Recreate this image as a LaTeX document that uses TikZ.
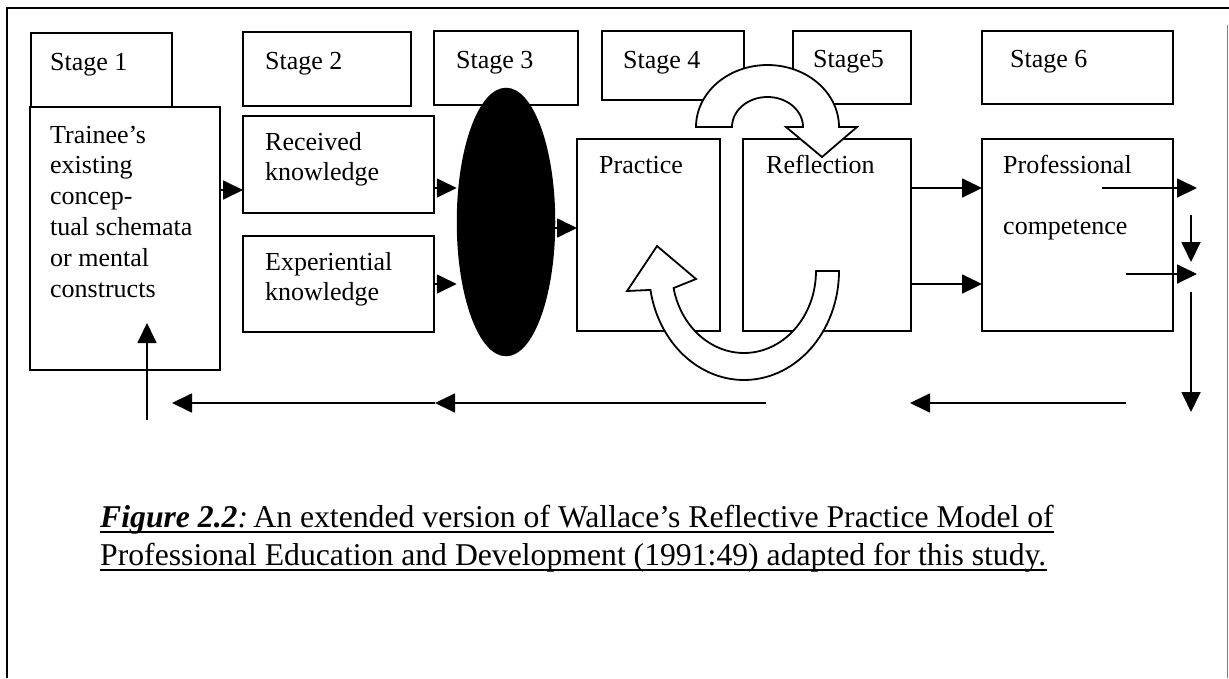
\documentclass[tikz,border=0pt]{standalone}
\usepackage{fontspec}
\setmainfont{Liberation Serif}
\usetikzlibrary{arrows.meta,shapes.geometric}

\newcommand\dtext{\fontsize{26}{30.8}\selectfont}
\newcommand\ctext{\fontsize{31.7}{38}\selectfont}
\newcommand\stack[1]{\parbox[t]{220pt}{\raggedright #1}}

\begin{document}
\begin{tikzpicture}[x=1pt,y=-1pt,
  stagebox/.style={draw, line width=1.8pt, inner sep=0pt, outer sep=0pt, anchor=north west},
  lbl/.style={anchor=base west, inner sep=0pt, font=\dtext},
  captext/.style={anchor=base west, inner sep=0pt, font=\ctext},
  arr/.style={line width=1.8pt, -{Triangle[length=20pt,width=19pt]}},
  cyclearrow/.style={draw, fill=white, line width=1.8pt, line join=miter}
]
\useasboundingbox (0,0) rectangle (1229,678);

% outer frame
\draw[line width=1.5pt] (7,678) -- (7,8) -- (1229,8);
\draw[gray, line width=1pt] (1227,25) -- (1227,678);

% stage headers
\node[stagebox, minimum width=141pt, minimum height=74pt] (s1) at (31,33) {};
\node[stagebox, minimum width=168pt, minimum height=74pt] (s2) at (243,32) {};
\node[stagebox, minimum width=144pt, minimum height=74pt] (s3) at (434,31) {};
\node[stagebox, minimum width=142pt, minimum height=69pt] (s4) at (602,31) {};
\node[stagebox, minimum width=118pt, minimum height=73pt] (s5) at (793,31) {};
\node[stagebox, minimum width=191pt, minimum height=73pt] (s6) at (982,31) {};

% content boxes
\node[stagebox, minimum width=190pt, minimum height=263pt] (trainee) at (30,107) {};
\node[stagebox, minimum width=191pt, minimum height=97pt] (received) at (243,116) {};
\node[stagebox, minimum width=191pt, minimum height=96pt] (exper) at (243,236) {};
\node[stagebox, minimum width=143pt, minimum height=192pt] (practice) at (577,139) {};
\node[stagebox, minimum width=168pt, minimum height=192pt] (reflection) at (743,139) {};
\node[stagebox, minimum width=191pt, minimum height=192pt] (prof) at (982,139) {};

% stage 3 filter
\node[ellipse, draw, fill=black, line width=1.5pt, inner sep=0pt,
      minimum width=97pt, minimum height=267pt] (filter) at (506,222) {};

% reflective cycle: block arrows
\draw[cyclearrow] (696,127)
  -- plot[domain=180:360, samples=60] ({767.5+71.5*cos(\x)},{127+62*sin(\x)})
  -- (857,127) -- (822,157) -- (786,127)
  -- plot[domain=360:180, samples=60] ({767.5+35.5*cos(\x)},{127+30*sin(\x)})
  -- cycle;
\draw[cyclearrow] (816,271) -- (839,271)
  -- plot[domain=0:170, samples=60] ({744+95*cos(\x)},{271+109*sin(\x)})
  -- (627,291) -- (657,246) -- (696,279)
  -- plot[domain=168:0, samples=60] ({744+72*cos(\x)},{271+82*sin(\x)})
  -- cycle;

% labels
\node[lbl] (t1) at (50,70) {Stage 1};
\node[lbl] (t2) at (265,69) {Stage 2};
\node[lbl] (t3) at (456,68) {Stage 3};
\node[lbl] (t4) at (623,68) {Stage 4};
\node[lbl] (t5) at (813,67) {Stage5};
\node[lbl] (t6) at (1010,67) {Stage 6};
\node[lbl] (ttrainee) at (50,143) {\stack{Trainee’s\\existing\\concep-\\tual schemata\\or mental\\constructs}};
\node[lbl] (treceived) at (265,150) {\stack{Received\\knowledge}};
\node[lbl] (texper) at (265,270) {\stack{Experiential\\knowledge}};
\node[lbl] (tpractice) at (599,173) {Practice};
\node[lbl] (treflection) at (766,173) {Reflection};
\node[lbl] (tprof1) at (1003,173) {Professional};
\node[lbl] (tprof2) at (1003,234) {competence};

% free ends of connectors
\coordinate (p1s) at (1102,188); \coordinate (p1e) at (1197,188);
\coordinate (p2s) at (1126,274); \coordinate (p2e) at (1197,274);
\coordinate (d1s) at (1191,215); \coordinate (d1e) at (1191,262);
\coordinate (d2s) at (1191,292); \coordinate (d2e) at (1191,412);
\coordinate (b1s) at (766,403); \coordinate (b1m) at (435,403); \coordinate (b1e) at (172,403);
\coordinate (b2s) at (1126,403); \coordinate (b2e) at (910,403);
\coordinate (ups) at (147,420); \coordinate (upe) at (147,323);

% connectors
\draw[arr] (trainee.east |- 0,190) -- (received.west |- 0,190);
\draw[arr] (received.east |- 0,188) -- (filter.west |- 0,188);
\draw[arr] (exper.east |- 0,284) -- (filter.west |- 0,284);
\draw[arr] (filter.east |- 0,228) -- (practice.west |- 0,228);
\draw[arr] (reflection.east |- 0,188) -- (prof.west |- 0,188);
\draw[arr] (reflection.east |- 0,284) -- (prof.west |- 0,284);
\draw[arr] (p1s) -- (p1e);
\draw[arr] (p2s) -- (p2e);
\draw[arr] (d1s) -- (d1e);
\draw[arr] (d2s) -- (d2e);
\draw[arr] (b1s) -- (b1m);
\draw[arr] (b1m) -- (b1e);
\draw[arr] (b2s) -- (b2e);
\draw[arr] (ups) -- (upe);

% caption
\node[captext] (cap1) at (100,527) {\textbf{\textit{Figure 2.2}}\textit{:}\,An extended version of Wallace’s Reflective Practice Model of};
\node[captext] (cap2) at (100,565) {Professional Education and Development (1991:49) adapted for this study.};
\draw[line width=1.5pt] ([yshift=-5pt]cap1.base west) -- ([yshift=-5pt]cap1.base east);
\draw[line width=1.5pt] ([yshift=-5pt]cap2.base west) -- ([yshift=-5pt]cap2.base east);
\end{tikzpicture}
\end{document}
